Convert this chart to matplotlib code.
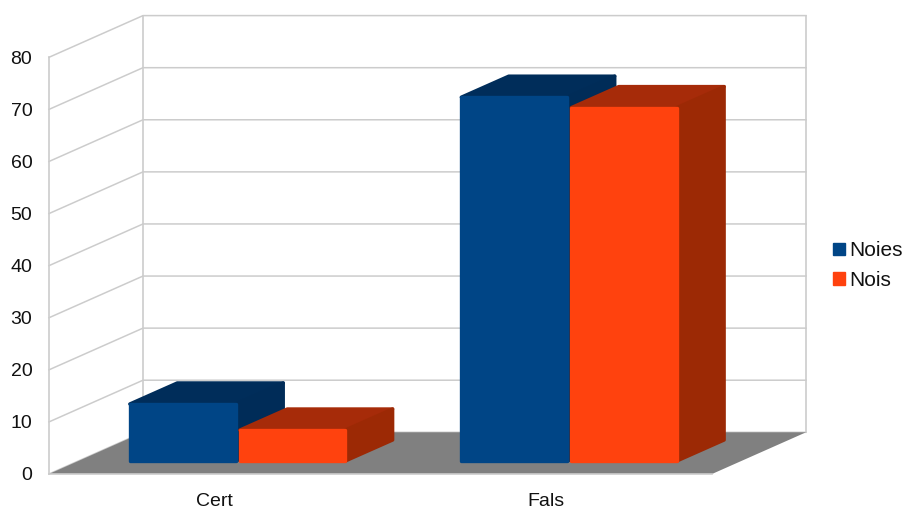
import matplotlib
matplotlib.use("Agg")
import matplotlib.pyplot as plt
from matplotlib.patches import Polygon, Patch

plt.rcParams["font.family"] = ["Liberation Sans", "DejaVu Sans"]

categories = ["Cert", "Fals"]
series_names = ["Noies", "Nois"]
noies = [11.6, 70.5]
nois = [6.6, 68.5]
y_ticks = [0, 10, 20, 30, 40, 50, 60, 70, 80]

front_colors = ["#004586", "#ff420e"]
top_colors = ["#002d5a", "#a62b09"]
side_colors = ["#002c58", "#9c2905"]
grid_color = "#cccccc"
floor_color = "#808080"
text_color = "#111111"

W, H = 904, 509
fig = plt.figure(figsize=(W / 100, H / 100), dpi=100, facecolor="white")
# The axes cover the front plane of the oblique box
ax = fig.add_axes([49 / W, (H - 474) / H, 663 / W, 416.7 / H])
ax.set_xlim(0.5, 2.5)
ax.set_ylim(0, 80)
ax.patch.set_visible(False)

# Shear of one full unit of depth, in data units
depth_dx = 94 / 331.5
depth_dy = 41.7 / 5.209


def project(x, v, d):
    return (x + d * depth_dx, v + d * depth_dy)


def face(points, color, z, edge=2.4):
    ax.add_patch(Polygon([project(*p) for p in points], closed=True,
                         facecolor=color, edgecolor=color, linewidth=edge,
                         joinstyle="round", clip_on=False, zorder=z))


# Walls and floor
x_lo, x_hi = 0.5, 2.5
for v in y_ticks:
    ax.plot(*zip(project(x_lo, v, 0), project(x_lo, v, 1), project(x_hi, v, 1)),
            color=grid_color, lw=1.1, clip_on=False, zorder=1)
ax.plot(*zip(project(x_lo, 0, 1), project(x_lo, 80, 1)),
        color=grid_color, lw=1.2, clip_on=False, zorder=1)
ax.plot(*zip(project(x_hi, 0, 1), project(x_hi, 80, 1)),
        color=grid_color, lw=1.2, clip_on=False, zorder=1)
face([(x_lo, 0, 0), (x_hi, 0, 0), (x_hi, 0, 1), (x_lo, 0, 1)], floor_color, 2, edge=0)

# Bars, painted back to front; the thick round-joined edge gives the soft
# corners, so each outline is pulled in by half that edge
bar_w = 0.33
d0, d1 = 0.27, 0.775
inset_x = 1.67 / 331.5
inset_v = 1.67 / 5.209
z = 3
for i, cat in enumerate(categories):
    center = i + 1
    for s, vals in enumerate([noies, nois]):
        left = center - 0.338 + s * bar_w + 0.002 * s + inset_x
        right = center - 0.338 + (s + 1) * bar_w - inset_x
        v = vals[i] - inset_v
        b = inset_v
        face([(left, v, d0), (right, v, d0), (right, v, d1), (left, v, d1)], top_colors[s], z)
        face([(right, b, d0), (right, v, d0), (right, v, d1), (right, b, d1)], side_colors[s], z)
        face([(left, b, d0), (right, b, d0), (right, v, d0), (left, v, d0)], front_colors[s], z + 1)
        z += 2

# Axes furniture
for name in ("top", "right"):
    ax.spines[name].set_visible(False)
for name in ("left", "bottom"):
    ax.spines[name].set_color(grid_color)
    ax.spines[name].set_linewidth(1.2)
    ax.spines[name].set_zorder(2.5)
ax.set_yticks(y_ticks)
ax.set_xticks([1, 2], categories)
ax.tick_params(axis="both", length=0, labelsize=14, labelcolor=text_color)
ax.tick_params(axis="y", pad=12)
ax.tick_params(axis="x", pad=14)

handles = [Patch(facecolor=c, edgecolor=c, label=n)
           for c, n in zip(front_colors, series_names)]
fig.legend(handles=handles, loc="center left",
           bbox_to_anchor=(827 / W, (H - 265.5) / H), frameon=False,
           fontsize=15, labelcolor=text_color,
           handlelength=0.55, handleheight=0.55, handletextpad=0.24,
           labelspacing=0.5, borderpad=0.3, borderaxespad=0)

fig.savefig("out.png", dpi=100, facecolor="white")
